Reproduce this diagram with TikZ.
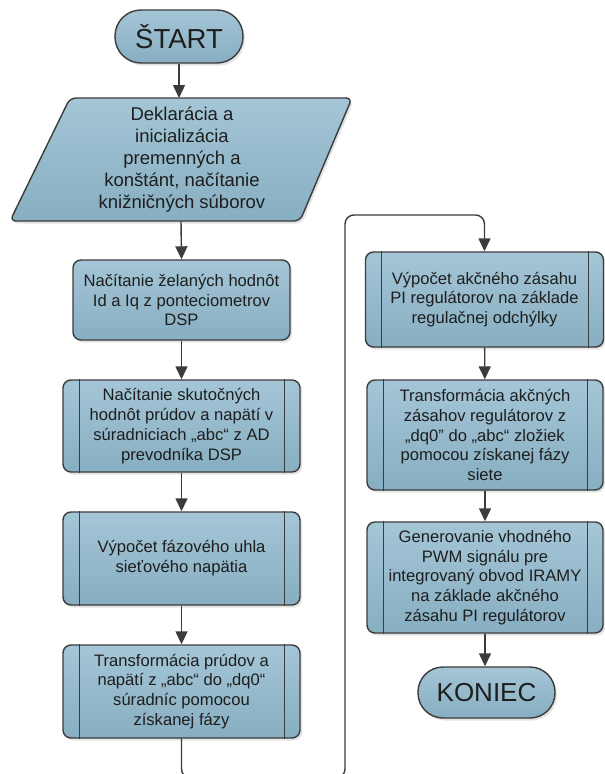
\documentclass[tikz,border=0pt]{standalone}
\usepackage{fontspec}
\setmainfont{Liberation Sans}
\usetikzlibrary{arrows.meta,shadows,calc}
\definecolor{boxtop}{HTML}{A4C6D7}
\definecolor{boxbot}{HTML}{87AEC1}
\definecolor{edge}{HTML}{3C3C3C}
\definecolor{txt}{HTML}{1E1E1E}
\tikzset{
  base/.style={draw=edge, line width=1.4pt, top color=boxtop, bottom color=boxbot,
    drop shadow={shadow xshift=2pt, shadow yshift=-2.5pt, opacity=0.22}},
  boxtext/.style={text=txt, align=center, inner sep=0pt, font=\fontsize{16.6}{19.8}\selectfont},
  procbox/.style={base, boxtext, rounded corners=8pt},
  terminal/.style={base, text=txt, inner sep=0pt, font=\fontsize{26}{30}\selectfont},
  conn/.style={draw=edge, line width=1.4pt, -{Triangle[length=13pt,width=12pt]}},
  innerline/.style={draw=edge, line width=1.2pt}
}
\begin{document}
\begin{tikzpicture}[x=1pt,y=-1pt]
\path[use as bounding box, clip] (0,0) rectangle (605,774);
\fill[white] (0,0) rectangle (605,774);

% start
\node[terminal, font=\fontsize{27.5}{30}\selectfont, rounded corners=26pt, minimum width=128pt, minimum height=53pt] (start) at (179,36.5) {ŠTART};

% parallelogram (input)
\path[base, rounded corners=6pt] (70,98) -- (352,98) -- (300,221) -- (10,221) -- cycle;
\node[boxtext, font=\fontsize{18.5}{22}\selectfont] (decl) at (182,160)
  {Deklarácia a\\inicializácia\\premenných a\\konštánt, načítanie\\knižničných súborov};
\coordinate (decltop) at (181,98);
\coordinate (declbot) at (181,221);

% left column
\node[procbox, minimum width=217pt, minimum height=80pt] (b1) at (181.5,300)
  {Načítanie želaných hodnôt\\Id a Iq z ponteciometrov\\DSP};
\node[procbox, minimum width=237pt, minimum height=92pt] (b2) at (181.5,426)
  {Načítanie skutočných\\hodnôt prúdov a napätí v\\súradniciach „abc“ z AD\\prevodníka DSP};
\node[procbox, minimum width=237pt, minimum height=93pt] (b3) at (181.5,558.5)
  {Výpočet fázového uhla\\sieťového napätia};
\node[procbox, minimum width=237pt, minimum height=93pt] (b4) at (181.5,691.5)
  {Transformácia prúdov a\\napätí z „abc“ do „dq0“\\súradníc pomocou\\získanej fázy};

% right column
\node[procbox, minimum width=238pt, minimum height=95pt] (b5) at (484.5,299.5)
  {Výpočet akčného zásahu\\PI regulátorov na základe\\regulačnej odchýlky};
\node[procbox, minimum width=236pt, minimum height=110pt] (b6) at (485,435)
  {Transformácia akčných\\zásahov regulátorov z\\„dq0" do „abc“ zložiek\\pomocou získanej fázy\\siete};
\node[procbox, minimum width=236pt, minimum height=111pt] (b7) at (485,577.5)
  {Generovanie vhodného\\PWM signálu pre\\integrovaný obvod IRAMY\\na základe akčného\\zásahu PI regulátorov};
\node[terminal, rounded corners=25pt, minimum width=137pt, minimum height=51pt] (end) at (486.5,692.5) {KONIEC};

% inner vertical lines of predefined-process boxes
\foreach \n in {b2,b3,b4,b5,b6,b7}{
  \draw[innerline] ([xshift=17pt]\n.north west) -- ([xshift=17pt]\n.south west);
  \draw[innerline] ([xshift=-16pt]\n.north east) -- ([xshift=-16pt]\n.south east);
}

% connectors
\draw[conn] (start.south) -- (start.south |- decltop);
\draw[conn] (declbot) -- (b1.north);
\draw[conn] (b1) -- (b2);
\draw[conn] (b2) -- (b3);
\draw[conn] (b3) -- (b4);
\coordinate (loopa) at (181.5,778);
\coordinate (loopb) at (345,778);
\coordinate (loopc) at (345,215);
\coordinate (loopd) at (484.5,215);
\draw[conn, rounded corners=9pt] (b4.south) -- (loopa) -- (loopb) -- (loopc) -- (loopd) -- (b5.north);
\draw[conn] (b5) -- (b6);
\draw[conn] (b6) -- (b7);
\draw[conn] (b7.south) -- (b7.south |- end.north);
\end{tikzpicture}
\end{document}
